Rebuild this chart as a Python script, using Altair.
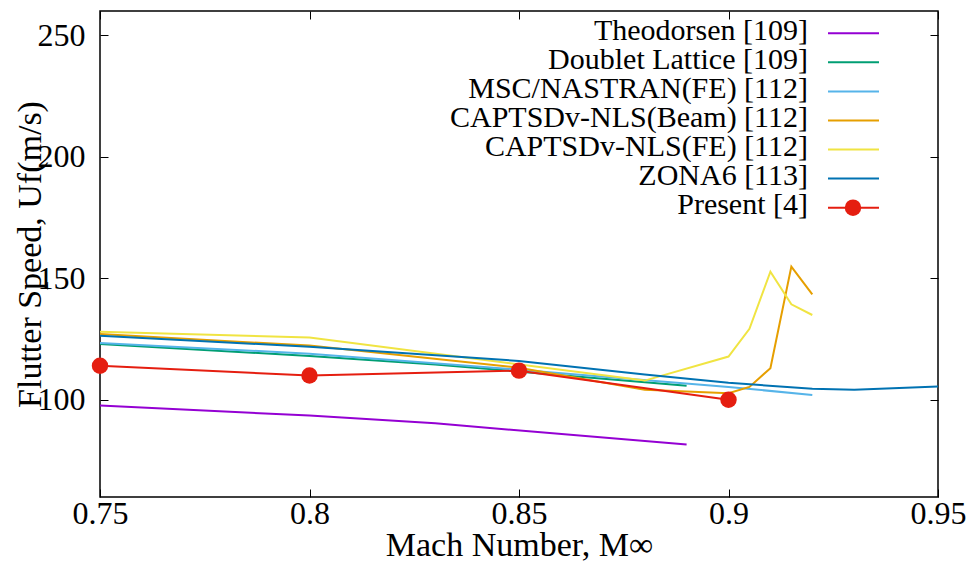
import altair as alt
import pandas as pd

# ---------------- data ----------------
series_names = [
    "Theodorsen [109]",
    "Doublet Lattice [109]",
    "MSC/NASTRAN(FE) [112]",
    "CAPTSDv-NLS(Beam) [112]",
    "CAPTSDv-NLS(FE) [112]",
    "ZONA6 [113]",
    "Present [4]",
]
series_colors = ["#9400d3", "#009e73", "#56b4e9", "#e69f00", "#f0e442", "#0072b2", "#e51e10"]

theo_mach = [0.75, 0.80, 0.83, 0.89]
theo_uf = [97.7, 93.5, 90.3, 81.6]
dlm_mach = [0.75, 0.80, 0.83, 0.89]
dlm_uf = [123.0, 118.0, 114.5, 105.8]
nastran_mach = [0.75, 0.80, 0.85, 0.90, 0.92]
nastran_uf = [123.4, 119.0, 112.4, 105.3, 102.0]
beam_mach = [0.75, 0.80, 0.85, 0.88, 0.90, 0.905, 0.91, 0.915, 0.92]
beam_uf = [127.1, 122.3, 113.2, 104.1, 102.7, 105.3, 113.0, 154.8, 143.4]
fe_mach = [0.75, 0.80, 0.88, 0.90, 0.905, 0.91, 0.915, 0.92]
fe_uf = [128.0, 125.6, 107.9, 117.8, 129.2, 152.7, 139.3, 134.9]
zona_mach = [0.75, 0.80, 0.85, 0.88, 0.90, 0.92, 0.93, 0.95]
zona_uf = [126.4, 121.8, 116.0, 110.4, 107.0, 104.5, 104.1, 105.5]
present_mach = [0.75, 0.80, 0.85, 0.90]
present_uf = [114.0, 110.0, 112.0, 100.0]

x_ticks = [0.75, 0.8, 0.85, 0.9, 0.95]
y_ticks = [100, 150, 200, 250]
x_domain = [0.75, 0.95]
y_domain = [60.0, 260.0]

series_data = [
    (theo_mach, theo_uf),
    (dlm_mach, dlm_uf),
    (nastran_mach, nastran_uf),
    (beam_mach, beam_uf),
    (fe_mach, fe_uf),
    (zona_mach, zona_uf),
    (present_mach, present_uf),
]

# ---------------- styling ----------------
FONT = "Liberation Serif"
xscale = alt.Scale(domain=x_domain, nice=False, zero=False)
yscale = alt.Scale(domain=y_domain, nice=False, zero=False)

bottom_axis = alt.Axis(
    orient="bottom", values=x_ticks, format=".2~f", tickSize=8, offset=-8,
    domain=False, grid=False, labelPadding=1, labelFont=FONT, labelFontSize=32,
    labelColor="black", labelFlush=False, labelOverlap=False, tickColor="black",
    title="Mach Number, M∞", titleFont=FONT, titleFontSize=34,
    titleFontWeight="normal", titleColor="black", titleX=419, titleY=66,
    titleBaseline="alphabetic", titleAlign="center",
)
left_axis = alt.Axis(
    orient="left", values=y_ticks, tickSize=8, offset=-8, domain=False, grid=False,
    labelPadding=15, labelFont=FONT, labelFontSize=32, labelColor="black",
    labelFlush=False, labelOverlap=False, tickColor="black",
    title="Flutter Speed, Uf(m/s)", titleFont=FONT, titleFontSize=34,
    titleFontWeight="normal", titleColor="black", titleX=-68, titleY=243,
    titleAngle=270, titleBaseline="alphabetic", titleAlign="center",
)
top_axis = alt.Axis(
    orient="top", values=x_ticks, tickSize=8, offset=-8, domain=False, grid=False,
    labels=False, title=None, tickColor="black",
)
right_axis = alt.Axis(
    orient="right", values=y_ticks, tickSize=8, offset=-8, domain=False, grid=False,
    labels=False, title=None, tickColor="black",
)

layers = []
for i, (name, color, (mx, uf)) in enumerate(zip(series_names, series_colors, series_data)):
    df = pd.DataFrame({"mach": mx, "uf": uf, "series": name})
    base = alt.Chart(df)
    xa = bottom_axis if i == 0 else None
    ya = left_axis if i == 0 else None
    line = base.mark_line(color=color, strokeWidth=2, clip=True).encode(
        x=alt.X("mach:Q", scale=xscale, axis=xa),
        y=alt.Y("uf:Q", scale=yscale, axis=ya),
    )
    layers.append(line)
    if name.startswith("Present"):
        pts = base.mark_circle(color=color, size=270, opacity=1, clip=False).encode(
            x=alt.X("mach:Q", scale=xscale, axis=None),
            y=alt.Y("uf:Q", scale=yscale, axis=None),
        )
        layers.append(pts)

# mirror ticks (top / right), invisible carrier mark
mirror_df = pd.DataFrame({"mach": zona_mach, "uf": zona_uf})
mirror = alt.Chart(mirror_df).mark_line(strokeOpacity=0).encode(
    x=alt.X("mach:Q", scale=xscale, axis=top_axis),
    y=alt.Y("uf:Q", scale=yscale, axis=right_axis),
)
layers.append(mirror)

# legend (labels left of samples, as in the original); positions in plot pixels
leg_df = pd.DataFrame({"label": series_names, "color": series_colors, "idx": list(range(len(series_names)))})
leg_base = alt.Chart(leg_df)
leg_text = leg_base.mark_text(
    align="right", baseline="alphabetic", font=FONT, fontSize=30, color="black"
).transform_calculate(ty="29 + 29.06 * datum.idx").encode(
    x=alt.value(708),
    y=alt.Y("ty:Q", scale=None, axis=None),
    text="label:N",
)
leg_rule = leg_base.mark_rule(strokeWidth=2).transform_calculate(
    ry="22.3 + 29.06 * datum.idx"
).encode(
    x=alt.value(728),
    x2=alt.value(779),
    y=alt.Y("ry:Q", scale=None, axis=None),
    color=alt.Color("color:N", scale=None, legend=None),
)
leg_dot = leg_base.mark_circle(size=270, opacity=1).transform_filter(
    "datum.idx == 6"
).transform_calculate(ry="22.3 + 29.06 * datum.idx").encode(
    x=alt.value(753),
    y=alt.Y("ry:Q", scale=None, axis=None),
    color=alt.Color("color:N", scale=None, legend=None),
)
layers += [leg_rule, leg_dot, leg_text]

chart = alt.layer(*layers).resolve_axis(x="independent", y="independent").properties(
    width=838,
    height=486,
    autosize=alt.AutoSizeParams(type="none"),
    padding={"left": 100, "top": 11, "right": 30, "bottom": 69},
    background="white",
).configure_view(stroke="black", strokeWidth=1.5)

chart.save("out.html", embed_options={"renderer": "svg", "actions": False})
